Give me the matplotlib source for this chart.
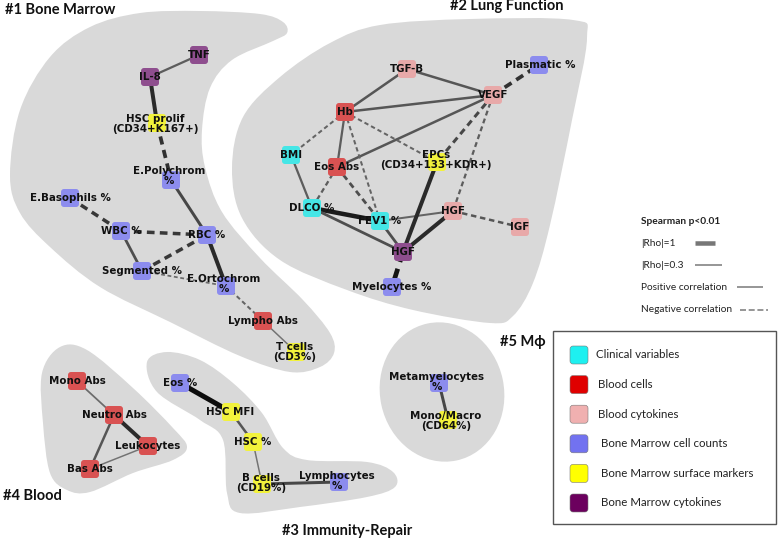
import matplotlib
matplotlib.use('Agg')
import matplotlib.pyplot as plt
from matplotlib.path import Path
from matplotlib.patches import PathPatch, FancyBboxPatch, Ellipse, Rectangle
import numpy as np

# ---- network data ----
node_ids = ['TNF', 'IL8', 'HSCprolif', 'EPoly', 'EBaso', 'WBC', 'RBC', 'Segm', 'EOrto', 'LymphoAbs', 'Tcells',
            'TGFB', 'Plasm', 'VEGF', 'Hb', 'BMI', 'EosAbs', 'EPCs', 'DLCO', 'FEV1', 'HGFb', 'IGF', 'HGFm', 'Myelo',
            'MonoAbs', 'NeutroAbs', 'Leuko', 'BasAbs',
            'Eos', 'HSCMFI', 'HSC', 'Bcells', 'Lymphocytes',
            'Metamyelo', 'MonoMacro']
node_labels = ['TNF', 'IL-8', 'HSC prolif\n(CD34+K167+)', 'E.Polychrom\n%', 'E.Basophils %', 'WBC %', 'RBC %',
               'Segmented %', 'E.Ortochrom\n%', 'Lympho Abs', 'T cells\n(CD3%)',
               'TGF-B', 'Plasmatic %', 'VEGF', 'Hb', 'BMI', 'Eos Abs', 'EPCs\n(CD34+133+KDR+)', 'DLCO %', 'FEV1 %',
               'HGF', 'IGF', 'HGF', 'Myelocytes %',
               'Mono Abs', 'Neutro Abs', 'Leukocytes', 'Bas Abs',
               'Eos %', 'HSC MFI', 'HSC %', 'B cells\n(CD19%)', 'Lymphocytes\n%',
               'Metamyelocytes\n%', 'Mono/Macro\n(CD64%)']
# 0 clinical, 1 blood cells, 2 blood cytokines, 3 BM cell counts, 4 BM surface markers, 5 BM cytokines
node_cat = [5, 5, 4, 3, 3, 3, 3, 3, 3, 1, 4,
            2, 3, 2, 1, 0, 1, 4, 0, 0, 2, 2, 5, 3,
            1, 1, 1, 1,
            3, 4, 4, 4, 3,
            3, 4]

edge_src = ['TNF', 'IL8', 'HSCprolif', 'EPoly', 'EBaso', 'WBC', 'WBC', 'Segm', 'RBC', 'Segm', 'EOrto', 'LymphoAbs',
            'TGFB', 'TGFB', 'Hb', 'VEGF', 'VEGF', 'VEGF', 'VEGF', 'Hb', 'Hb', 'Hb', 'Hb', 'EosAbs', 'EosAbs',
            'BMI', 'DLCO', 'DLCO', 'FEV1', 'FEV1', 'EPCs', 'HGFb', 'HGFb', 'HGFm',
            'MonoAbs', 'NeutroAbs', 'NeutroAbs', 'BasAbs',
            'Eos', 'HSCMFI', 'HSC', 'Bcells',
            'Metamyelo']
edge_dst = ['IL8', 'HSCprolif', 'EPoly', 'RBC', 'WBC', 'RBC', 'Segm', 'RBC', 'EOrto', 'EOrto', 'LymphoAbs', 'Tcells',
            'Hb', 'VEGF', 'VEGF', 'Plasm', 'EosAbs', 'EPCs', 'HGFb', 'BMI', 'EosAbs', 'EPCs', 'FEV1', 'DLCO', 'FEV1',
            'DLCO', 'FEV1', 'HGFm', 'HGFb', 'HGFm', 'HGFm', 'HGFm', 'IGF', 'Myelo',
            'NeutroAbs', 'Leuko', 'BasAbs', 'Leuko',
            'HSCMFI', 'HSC', 'Bcells', 'Lymphocytes',
            'MonoMacro']
edge_rho = [0.45, 0.8, -0.75, 0.6, -0.7, -0.7, 0.55, -0.7, 0.8, -0.35, -0.4, 0.3,
            0.5, 0.5, 0.5, -0.75, 0.5, -0.6, -0.45, -0.4, 0.45, -0.4, -0.4, -0.45, -0.55,
            0.45, 0.9, 0.55, 0.4, 0.55, 0.8, 0.8, -0.5, -0.95,
            0.35, 0.8, 0.5, 0.3,
            1.0, 0.5, 0.3, 0.6,
            0.6]

legend_names = ['Clinical variables', 'Blood cells', 'Blood cytokines', 'Bone Marrow cell counts',
                'Bone Marrow surface markers', 'Bone Marrow cytokines']
group_titles = ['#1 Bone Marrow', '#2 Lung Function', '#3 Immunity-Repair', '#4 Blood', '#5 M\u03d5']

# ---- layout (pixel coordinates) ----
pos = {
    'TNF': (199, 55), 'IL8': (150, 77), 'HSCprolif': (157, 123), 'EPoly': (171, 180), 'EBaso': (70, 198),
    'WBC': (121, 231), 'RBC': (207, 235), 'Segm': (142, 271), 'EOrto': (226, 286), 'LymphoAbs': (263, 321),
    'Tcells': (296, 352),
    'TGFB': (407, 69), 'Plasm': (539, 65), 'VEGF': (493, 95), 'Hb': (345, 112), 'BMI': (291, 155),
    'EosAbs': (337, 167), 'EPCs': (437, 162), 'DLCO': (312, 208), 'FEV1': (380, 221), 'HGFb': (453, 211),
    'IGF': (520, 227), 'HGFm': (403, 252), 'Myelo': (392, 287),
    'MonoAbs': (77, 381), 'NeutroAbs': (114, 415), 'Leuko': (148, 446), 'BasAbs': (90, 469),
    'Eos': (180, 383), 'HSCMFI': (231, 412), 'HSC': (253, 442), 'Bcells': (262, 484), 'Lymphocytes': (339, 482),
    'Metamyelo': (439, 383), 'MonoMacro': (448, 420),
}
label_pos = {'HSCprolif': (155, 124), 'EPoly': (169, 176), 'EOrto': (224, 284), 'Tcells': (295, 352),
             'EPCs': (436, 160), 'Bcells': (261, 483), 'Lymphocytes': (337, 481), 'Metamyelo': (437, 382),
             'MonoMacro': (446, 421), 'Plasm': (540, 65), 'HSCMFI': (230, 412)}

node_colors = ['#45e6e6', '#d95252', '#e8a9a9', '#8c8cee', '#f2f23c', '#8e4e8e']
legend_colors = ['#1ef0f0', '#e00000', '#f0b0b0', '#7272f0', '#ffff00', '#6c005e']

blobs = [
    [(10, 175), (20, 110), (50, 57), (90, 27), (140, 13), (200, 11), (260, 14), (283, 22), (287, 33), (273, 41),
     (232, 60), (210, 88), (202, 130), (205, 167), (222, 212), (260, 258), (303, 300), (330, 333), (334, 353),
     (320, 367), (290, 372), (240, 356), (170, 322), (100, 287), (50, 247), (20, 213)],
    [(380, 25), (470, 19), (573, 20), (587, 38), (572, 120), (550, 225), (533, 283), (513, 316), (490, 323),
     (413, 310), (347, 290), (280, 260), (242, 218), (232, 168), (243, 117), (280, 77), (330, 43)],
    [(60, 347), (87, 350), (133, 388), (173, 428), (187, 447), (173, 460), (133, 473), (90, 492), (67, 490),
     (50, 473), (43, 423), (42, 373)],
    [(147, 362), (167, 352), (200, 360), (233, 383), (262, 413), (283, 448), (307, 460), (367, 462), (393, 472),
     (395, 487), (367, 497), (300, 507), (240, 513), (227, 493), (223, 440), (200, 420), (157, 392)],
]


def smooth_closed(pts):
    # closed Catmull-Rom curve as cubic Bezier path
    p = np.array(pts, dtype=float)
    n = len(p)
    verts = [p[0]]
    codes = [Path.MOVETO]
    for i in range(n):
        p0, p1, p2, p3 = p[i - 1], p[i], p[(i + 1) % n], p[(i + 2) % n]
        verts += [p1 + (p2 - p0) / 6, p2 - (p3 - p1) / 6, p2]
        codes += [Path.CURVE4] * 3
    return Path(verts, codes)


fig = plt.figure(figsize=(7.78, 5.39), dpi=100)
ax = fig.add_axes([0, 0, 1, 1])
ax.set_xlim(0, 778)
ax.set_ylim(539, 0)
ax.axis('off')
px = 0.72  # points per pixel

for b in blobs:
    ax.add_patch(PathPatch(smooth_closed(b), fc='#d9d9d9', ec='none', zorder=0))
ax.add_patch(Ellipse((442, 392), 124, 140, angle=-12, fc='#d9d9d9', ec='none', zorder=0))

# edges
for s, d, r in zip(edge_src, edge_dst, edge_rho):
    (x0, y0), (x1, y1) = pos[s], pos[d]
    w = abs(r)
    grey = 0.45 - 0.4 * (w - 0.3) / 0.7
    ln, = ax.plot([x0, x1], [y0, y1], color=(grey, grey, grey), lw=5 * w * px, zorder=1,
                  solid_capstyle='butt', dash_capstyle='butt')
    if r < 0:
        ln.set_dashes((2.2, 1.5))

# nodes
for i, nid in enumerate(node_ids):
    x, y = pos[nid]
    ax.add_patch(FancyBboxPatch((x - 9, y - 9), 18, 18, boxstyle='round,pad=0,rounding_size=3',
                                fc=node_colors[node_cat[i]], ec='none', zorder=2))
for i, nid in enumerate(node_ids):
    lx, ly = label_pos.get(nid, pos[nid])
    ax.text(lx, ly, node_labels[i], ha='center', va='center', fontsize=7.4, fontweight='bold',
            family='DejaVu Sans', color='#111111', linespacing=1.05, zorder=3)

# group titles
tfont = dict(family=['Lato', 'DejaVu Sans'], fontweight='bold', fontsize=10.5, color='#111111')
ax.text(5, 10, group_titles[0], ha='left', va='center', **tfont)
ax.text(507, 6, group_titles[1], ha='center', va='center', **tfont)
ax.text(282, 531, group_titles[2], ha='left', va='center', **tfont)
ax.text(3, 496, group_titles[3], ha='left', va='center', **tfont)
ax.text(500, 342, group_titles[4], ha='left', va='center', **tfont)

# spearman key
kfont = dict(family='Lato', fontsize=7.3, color='#222222', va='center', ha='left')
ax.text(641, 221, 'Spearman p<0.01', fontweight='bold', **kfont)
ax.text(641, 243, '|Rho|=1', **kfont)
ax.plot([695, 715], [243, 243], color='#777777', lw=4.5 * px, solid_capstyle='butt')
ax.text(641, 265, '|Rho|=0.3', **kfont)
ax.plot([695, 722], [265, 265], color='#777777', lw=1.5 * px, solid_capstyle='butt')
ax.text(641, 287, 'Positive correlation', **kfont)
ax.plot([737, 763], [287, 287], color='#777777', lw=1.5 * px, solid_capstyle='butt')
ax.text(641, 310, 'Negative correlation', **kfont)
ln, = ax.plot([740, 768], [310, 310], color='#777777', lw=1.5 * px, dash_capstyle='butt')
ln.set_dashes((4, 1.8))

# colour legend
ax.add_patch(Rectangle((553, 331), 223, 193, fc='white', ec='#555555', lw=1.0, zorder=1))
for i, name in enumerate(legend_names):
    y = 355 + 29.6 * i
    ax.add_patch(FancyBboxPatch((570, y - 9), 18, 18, boxstyle='round,pad=0,rounding_size=3',
                                fc=legend_colors[i], ec='#777777', lw=0.4, zorder=2))
    ax.text(596 + (2 if i > 0 else 0) + (3 if i > 2 else 0), y, name, family='Lato', fontsize=8.3,
            color='#222222', va='center', ha='left', zorder=3)

fig.savefig('out.png', dpi=100)
